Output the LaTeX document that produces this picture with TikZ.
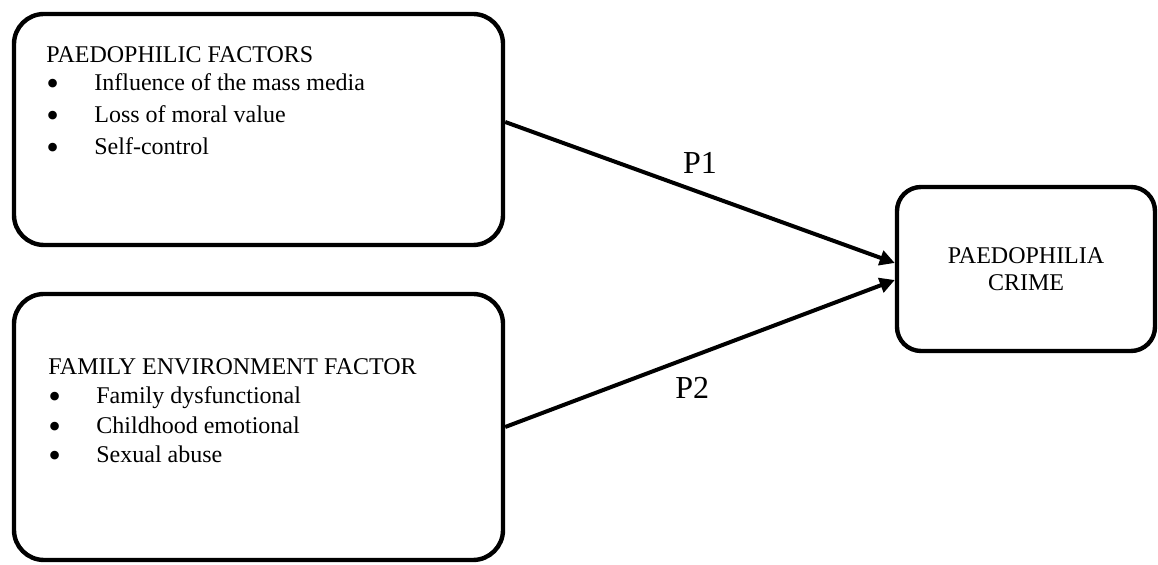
\documentclass[tikz,border=0pt]{standalone}
\usepackage{fontspec}
\setmainfont{Liberation Serif}
\usetikzlibrary{arrows.meta, positioning}

\newcommand{\bitem}{\makebox[24pt][l]{\raisebox{-0.2em}[\height][0pt]{\scalebox{1.5}{\textbullet}}}}

\begin{document}
\begin{tikzpicture}[x=0.5pt, y=-0.5pt, factor/.style={draw, line width=2.2pt, rounded corners=15pt, minimum width=244.5pt}, outcome/.style={draw, line width=2.2pt, rounded corners=12pt, minimum width=129pt, minimum height=82pt, align=center, font=\fontsize{12}{13.5}\selectfont}, factortext/.style={anchor=base west, align=left, inner sep=0pt}, plabel/.style={font=\fontsize{16}{18}\selectfont}, ->, >={Triangle[length=7.5pt, width=7.5pt]}]
        \useasboundingbox (0,0) rectangle (1158,565);
        \node[factor, minimum height=115.5pt] (pf) at (258.5,129.5) {};
        \node[factor, minimum height=133pt] (fe) at (258.5,427) {};
        \node[outcome] (crime) at (1026,269) {PAEDOPHILIA\\CRIME};
        \node[factortext, font=\fontsize{12}{16}\selectfont] (pfText) at (46,155) {PAEDOPHILIC FACTORS\\[-2pt] \bitem Influence of the mass media\\ \bitem Loss of moral value\\ \bitem Self-control};
        \node[factortext, font=\fontsize{12}{14.75}\selectfont] (feText) at (48,463) {FAMILY ENVIRONMENT FACTOR\\ \bitem Family dysfunctional\\ \bitem Childhood emotional\\ \bitem Sexual abuse};
        \draw[line width=2pt] ([yshift=3.75pt]pf.east) -- node[plabel, above=5.4pt] (p1) {P1} ([yshift=3pt]crime.west);
        \draw[line width=2pt] (fe.east) -- node[plabel, pos=0.48, below=6.2pt] (p2) {P2} ([yshift=-5.5pt]crime.west);
    \end{tikzpicture}
\end{document}
